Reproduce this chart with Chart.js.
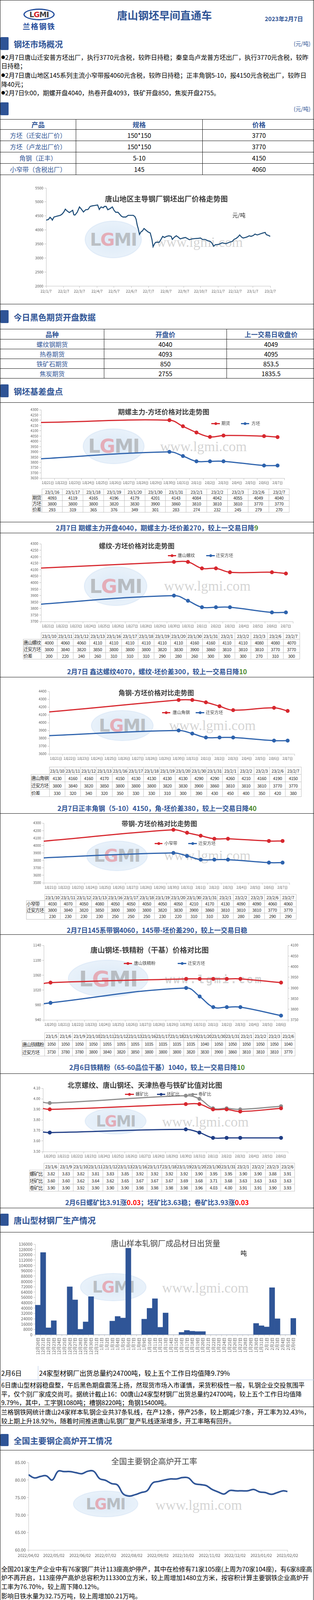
<!DOCTYPE html>
<html lang="zh-CN">
<head>
<meta charset="utf-8">
<title>唐山钢坯早间直通车</title>
<script src="https://cdn.jsdelivr.net/npm/chart.js@4.4.1/dist/chart.umd.min.js"></script>
<style>
  body { margin: 0; background: #fff; }
  #page { position: relative; width: 804px; height: 4517px; overflow: hidden; background: #fff;
          font-family: "Noto Sans CJK SC", "Noto Sans", sans-serif; color: #000; }
  .a, .ac { position: absolute; white-space: nowrap; line-height: 1.25; z-index: 3; }
  .a { transform: translateY(-50%); }
  .ac { transform: translate(-50%, -50%); }
  .hl { position: absolute; left: 0; width: 804px; height: 0; border-top: 1.5px solid #111; z-index: 4; }
  .vl { position: absolute; top: 0; width: 0; height: 4517px; border-left: 1.5px solid #111; z-index: 4; }
  .bar { position: absolute; left: 1px; width: 21px; background: #2f5496; border-radius: 2px; }
  .hd { left: 35px; font-size: 21px; font-weight: 700; color: #2f5496; }
  .unit { right: 9px; font-size: 14px; color: #2f5496; }
  .g { color: #4b8a2e; }
  .r { color: #ff0000; }
  .cv { position: absolute; left: 0; z-index: 2; }
  .wm { position: absolute; z-index: 1; }
  .lg { position: absolute; z-index: 3; }
  table.big { position: absolute; left: 0; width: 804px; border-collapse: collapse; table-layout: fixed; z-index: 3; }
  .big th, .big td { border: 1.5px solid #111; padding: 0; text-align: center; font-size: 16px; font-weight: 400; }
  .big th { font-size: 17px; font-weight: 700; color: #2f5496; }
  .big td.nm { color: #2f5496; }
  table.dt { position: absolute; border-collapse: collapse; table-layout: fixed; color: #262626; z-index: 3; }
  .dt td { border: 1px solid #bfbfbf; padding: 0; text-align: center; white-space: nowrap; overflow: hidden; line-height: 1; letter-spacing: -0.4px; }
  .dt td.corner { border-top: none; border-left: none; }
  .dt td.lab { text-align: left; font-size: 12px; letter-spacing: -1px; }
</style>
</head>
<body>
<div id="page"></div>
<script>
// ---------- data ----------
const products = ['方坯（迁安出厂价）', '方坯（卢龙出厂价）', '角钢（正丰）', '小窄带（含税出厂）'];
const specs = ['150*150', '150*150', '5-10', '145'];
const prices = [3770, 3770, 4150, 4060];

const futNames = ['螺纹钢期货', '热卷期货', '铁矿石期货', '焦炭期货'];
const futOpen = [4040, 4093, 850, 2755];
const futPrev = [4049, 4095, 853.5, 1835.5];

// 唐山钢坯出厂价 (daily)
const billetDates = [
  '22/1/7','22/1/11','22/1/14','22/1/17','22/1/18','22/1/21','22/1/26','22/2/1','22/2/4','22/2/7',
  '22/2/10','22/2/13','22/2/17','22/2/20','22/2/23','22/2/25','22/2/27','22/3/3','22/3/7','22/3/10',
  '22/3/14','22/3/18','22/3/22','22/3/26','22/3/30','22/4/2','22/4/5','22/4/8','22/4/11','22/4/14',
  '22/4/18','22/4/20','22/4/23','22/4/26','22/4/30','22/5/4','22/5/7','22/5/10','22/5/14','22/5/20',
  '22/5/23','22/5/28','22/6/1','22/6/6','22/6/10','22/6/13','22/6/15','22/6/17','22/6/19','22/6/21',
  '22/6/24','22/6/26','22/6/29','22/7/3','22/7/6','22/7/10','22/7/13','22/7/15','22/7/18','22/7/20',
  '22/7/26','22/7/29','22/8/1','22/8/4','22/8/8','22/8/12','22/8/16','22/8/18','22/8/21','22/8/25',
  '22/8/28','22/9/1','22/9/6','22/9/10','22/9/13','22/9/17','22/9/22','22/9/27','22/10/3','22/10/7',
  '22/10/10','22/10/15','22/10/20','22/10/24','22/10/27','22/10/30','22/11/2','22/11/7','22/11/11','22/11/14',
  '22/11/18','22/11/21','22/11/27','22/12/2','22/12/5','22/12/9','22/12/12','22/12/15','22/12/18','22/12/21',
  '22/12/25','22/12/28','23/1/1','23/1/4','23/1/8','23/1/11','23/1/15','23/1/18','23/1/22','23/1/25',
  '23/1/29','23/1/31','23/2/3','23/2/7'];
const billetPrices = [
  4350,4370,4450,4390,4350,4460,4490,4520,4560,4630,
  4740,4680,4620,4660,4700,4540,4530,4630,4820,4750,
  4640,4720,4730,4840,4860,4870,4880,4890,4730,4820,
  4790,4840,4840,4720,4760,4820,4700,4630,4630,4490,
  4460,4460,4520,4520,4520,4470,4380,4170,4030,3840,
  3940,3960,4050,3980,3930,3890,3660,3400,3520,3560,
  3560,3660,3770,3730,3770,3790,3770,3660,3730,3790,
  3750,3680,3710,3730,3700,3650,3680,3690,3700,3710,
  3660,3660,3610,3590,3530,3420,3470,3480,3510,3540,
  3520,3510,3560,3590,3660,3700,3750,3820,3750,3710,
  3730,3750,3790,3770,3800,3850,3820,3840,3870,3890,
  3910,3830,3810,3770];
const billetTicks = ['22/1/7','22/2/7','22/3/7','22/4/7','22/5/7','22/6/7','22/7/7','22/8/7','22/9/7','22/10/7','22/11/7','22/12/7','23/1/7','23/2/7'];

// day axes of the comparison charts
const days21 = ['1月21日','1月22日','1月23日','1月24日','1月25日','1月26日','1月27日','1月28日','1月29日','1月30日','1月31日','2月1日','2月2日','2月3日','2月4日','2月5日','2月6日','2月7日'];
const days21Start = '23/1/21';
const days20 = ['1月20日','1月21日','1月22日','1月23日','1月24日','1月25日','1月26日','1月27日','1月28日','1月29日','1月30日','1月31日','2月1日','2月2日','2月3日','2月4日','2月5日','2月6日'];
const days20Start = '23/1/20';

// 期螺主力-方坯
const futDates = ['23/1/16','23/1/17','23/1/18','23/1/19','23/1/20','23/1/30','23/1/31','23/2/1','23/2/2','23/2/3','23/2/6','23/2/7'];
const rebarFut = [4093,4119,4165,4196,4179,4201,4143,4084,4042,4055,4049,4040];
const rebarFutBillet = [3800,3800,3800,3820,3830,3900,3860,3810,3810,3810,3770,3770];
const rebarFutSpread = [293,319,365,376,349,301,283,274,232,245,279,270];

// 现货对比 (螺纹 / 角钢 / 带钢)
const spotDates = ['23/1/10','23/1/11','23/1/12','23/1/13','23/1/16','23/1/17','23/1/18','23/1/19','23/1/20','23/1/30','23/1/31','23/2/1','23/2/2','23/2/3','23/2/6','23/2/7'];
const qianBillet = [3800,3840,3820,3850,3800,3800,3800,3820,3830,3900,3860,3810,3810,3810,3770,3770];
const rebarSpot = [4000,4060,4060,4110,4110,4110,4110,4110,4110,4160,4160,4110,4110,4080,4080,4070];
const rebarSpread = [200,220,240,260,310,310,310,290,280,260,300,300,300,270,310,300];
const angleSpot = [4130,4160,4160,4170,4150,4130,4130,4130,4130,4290,4290,4260,4210,4160,4190,4150];
const angleSpread = [330,320,340,320,350,330,330,310,300,390,430,450,400,350,420,380];
const stripSpot = [4030,4070,4050,4080,4050,4050,4050,4050,4050,4210,4170,4130,4090,4090,4060,4060];
const stripSpread = [230,230,230,230,250,250,250,230,220,310,310,320,280,280,290,290];

// 铁精粉
const oreDates = ['23/1/5','23/1/6','23/1/9','23/1/10','23/1/11','23/1/12','23/1/13','23/1/16','23/1/17','23/1/18','23/1/19','23/1/20','23/1/30','23/1/31','23/2/1','23/2/2','23/2/3','23/2/6'];
const orePowder = [1050,1050,1050,1050,1055,1055,1055,1035,1035,1035,1035,1040,1050,1050,1050,1050,1050,1040];
const oreBillet = [3730,3780,3780,3800,3840,3820,3850,3800,3800,3800,3820,3830,3900,3860,3810,3810,3810,3770];

// 比值
const ratioDates = ['23/1/6','23/1/9','23/1/10','23/1/11','23/1/12','23/1/13','23/1/16','23/1/17','23/1/18','23/1/19','23/1/20','23/1/30','23/1/31','23/2/1','23/2/2','23/2/3','23/2/6'];
const rebarOre = [3.82,3.83,3.82,3.81,3.83,3.85,3.92,3.92,3.92,3.92,3.90,3.95,3.95,3.90,3.90,3.88,3.91];
const billetOre = [3.60,3.60,3.62,3.64,3.62,3.65,3.67,3.67,3.67,3.69,3.68,3.71,3.68,3.63,3.63,3.63,3.63];
const coilOre = [3.90,3.90,3.92,3.90,3.90,3.90,3.98,3.98,3.98,3.98,3.96,4.03,4.00,3.91,3.91,3.90,3.93];

// 型材出货量
const shipDates = [
  '12月20日','12月21日','12月22日','12月23日','12月24日','12月25日','12月26日','12月27日','12月28日','12月29日','12月30日','12月31日',
  '1月1日','1月2日','1月3日','1月4日','1月5日','1月6日','1月7日','1月8日','1月9日','1月10日','1月11日','1月12日','1月13日','1月14日','1月15日',
  '1月16日','1月17日','1月18日','1月19日','1月20日','1月21日','1月22日','1月23日','1月24日','1月25日','1月26日','1月27日','1月28日','1月29日','1月30日','1月31日',
  '2月1日','2月2日','2月3日','2月4日','2月5日','2月6日'];
const shipVolumes = [
  44500,123500,10500,21200,0,0,72000,52400,8300,19400,57300,0,
  0,0,20600,27600,25200,130000,0,0,23500,39800,54200,11300,32800,0,0,
  3700,6600,5400,4900,4900,0,0,0,0,0,0,0,0,0,17100,13600,
  11800,70700,24100,0,0,24700];

// 高炉开工率
const furnaceDates = ['2022/04/02','2022/04/09','2022/04/16','2022/04/23','2022/04/30','2022/05/07','2022/05/14','2022/05/21','2022/05/28','2022/06/04',
  '2022/06/11','2022/06/18','2022/06/25','2022/07/02','2022/07/09','2022/07/16','2022/07/23','2022/07/30','2022/08/06','2022/08/13',
  '2022/08/20','2022/08/27','2022/09/03','2022/09/10','2022/09/17','2022/09/24','2022/10/01','2022/10/08','2022/10/15','2022/10/22',
  '2022/10/29','2022/11/05','2022/11/12','2022/11/19','2022/11/26','2022/12/03','2022/12/10','2022/12/17','2022/12/24','2022/12/31',
  '2023/01/07','2023/01/14','2023/01/21','2023/01/28','2023/02/02'];
const furnaceRates = [81.5,80.6,81.0,81.2,80.0,82.5,82.4,82.4,82.1,81.8,
  82.5,82.5,80.4,79.9,79.0,78.6,76.0,75.4,75.8,76.4,
  76.9,79.2,79.6,80.0,80.3,80.3,80.7,80.6,79.0,78.7,
  78.4,77.3,76.6,76.0,77.0,76.9,76.9,76.9,77.3,76.6,
  76.4,75.9,76.4,76.9,76.7];
const furnaceTicks = ['2022/04/02','2022/05/02','2022/06/02','2022/07/02','2022/08/02','2022/09/02','2022/10/02','2022/11/02','2022/12/02','2023/01/02','2023/02/02'];

// 钢坯成本
const costDates = [
  '22/7/6','22/7/7','22/7/8','22/7/13','22/7/14','22/7/17','22/7/19','22/7/20','22/7/21','22/7/22',
  '22/7/23','22/8/2','22/8/3','22/8/4','22/8/5','22/8/9','22/8/10','22/8/11','22/8/13','22/8/15',
  '22/8/17','22/8/19','22/8/21','22/8/22','22/8/24','22/8/25','22/8/26','22/8/27','22/8/30','22/8/31',
  '22/9/2','22/9/6','22/9/7','22/9/13','22/9/14','22/9/17','22/9/19','22/9/21','22/9/22','22/9/24',
  '22/9/26','22/9/27','22/9/29','22/10/5','22/10/10','22/10/11','22/10/13','22/10/14','22/10/17','22/10/21',
  '22/10/25','22/10/27','22/10/28','22/11/1','22/11/2','22/11/3','22/11/4','22/11/9','22/11/13','22/11/15',
  '22/11/16','22/11/19','22/11/21','22/11/23','22/11/24','22/11/29','22/12/2','22/12/5','22/12/7','22/12/8',
  '22/12/11','22/12/13','22/12/14','22/12/19','22/12/20','22/12/21','22/12/22','22/12/25','22/12/27','22/12/29',
  '22/12/31','23/1/3','23/1/4','23/1/5','23/1/8','23/1/9','23/1/12','23/1/14','23/1/16','23/1/17',
  '23/1/18','23/1/21','23/1/28','23/1/29','23/2/1'];
const costBillet = [
  4030,3900,3920,3920,3730,3690,3650,3550,3400,3520,
  3550,3550,3620,3620,3760,3760,3710,3710,3780,3750,
  3730,3780,3790,3750,3730,3660,3710,3740,3750,3780,
  3690,3710,3680,3680,3730,3710,3690,3710,3620,3610,
  3600,3650,3660,3690,3710,3690,3730,3660,3640,3620,
  3600,3620,3590,3580,3420,3410,3450,3470,3490,3470,
  3510,3540,3560,3500,3520,3550,3590,3550,3550,3630,
  3630,3660,3740,3730,3810,3810,3710,3750,3730,3710,
  3740,3760,3780,3740,3730,3790,3800,3830,3850,3860,
  3810,3800,3800,3810,3840];
const costWeeks = ['22/7/6','22/7/13','22/7/20','22/7/27','22/8/3','22/8/10','22/8/17','22/8/24','22/8/31','22/9/7',
  '22/9/14','22/9/21','22/9/28','22/10/5','22/10/12','22/10/19','22/10/26','22/11/2','22/11/9','22/11/16',
  '22/11/23','22/11/30','22/12/7','22/12/14','22/12/21','22/12/28','23/1/4','23/1/11','23/1/18','23/1/25','23/2/1'];
const costAvg = [4340,4110,3870,3820,3790,3570,3570,3690,3660,3630,
  3670,3680,3620,3620,3780,3770,3780,3750,3620,3630,
  3660,3690,3740,3850,3850,3890,3900,3880,3830,3830,3823];

// ---------- helpers ----------
const RED = '#d7282f', BLUE = '#2e63ad', NAVY = '#1f3d85', GRAY = '#8c8c8c';
Chart.defaults.font.family = '"Noto Sans CJK SC", "Noto Sans", sans-serif';
Chart.defaults.color = '#595959';

const page = document.getElementById('page');
function el(tag, cls, css, html) {
  const e = document.createElement(tag);
  if (cls) e.className = cls;
  if (css) e.style.cssText = css;
  if (html != null) e.innerHTML = html;
  page.appendChild(e);
  return e;
}
function dayNum(s) {
  const p = s.split('/').map(Number);
  return Date.UTC(p[0] < 100 ? 2000 + p[0] : p[0], p[1] - 1, p[2]) / 864e5;
}
function monthDay(s) {
  const p = s.split('/');
  return p[1] + '月' + p[2] + '日';
}
function hline(y, color) { el('div', 'hl', `top:${y}px;` + (color ? `border-top-color:${color};` : '')); }
function section(barTop, barH, text, unit) {
  if (barH && text !== null) el('div', 'bar', `top:${barTop}px;height:${barH}px;`);
  const y = barTop + barH / 2;
  if (text) el('div', 'a hd', `top:${y}px;`, text);
  if (unit) el('div', 'a unit', `top:${y}px;`, '(元/吨)');
}
function text(x, y, html, css) { el('div', 'a', `left:${x}px;top:${y}px;` + (css || ''), html); }
function ctext(x, y, html, css) { el('div', 'ac', `left:${x}px;top:${y}px;` + (css || ''), html); }
function title(x, y, t, size, weight) {
  ctext(x, y, t, `font-size:${size}px;font-weight:${weight || 700};color:#404040;`);
}
function caption(y, html) { ctext(402, y, html, 'font-size:17px;font-weight:700;color:#2f5496;'); }

function legend(y, items) {
  items.forEach(([s, x1, x2, tx, noDot]) => {
    el('div', 'lg', `left:${x1}px;top:${y - (noDot ? 2 : 1.5)}px;width:${x2 - x1}px;height:${noDot ? 4 : 3}px;background:${s.color};`);
    if (!noDot) el('div', 'lg', `left:${(x1 + x2) / 2 - 3.5}px;top:${y - 3.5}px;width:7px;height:7px;border-radius:50%;background:${s.color};`);
    text(tx, y, s.name, 'font-size:11px;color:#404040;');
  });
}

function watermark(cx, cy, w, h, tx, ty, spaced) {
  const fs = Math.min(h * 0.62, w / 3.1);
  el('div', 'wm', `left:${cx - w / 2}px;top:${cy - h / 2}px;width:${w}px;height:${h}px;border-radius:50%;` +
    `background:radial-gradient(ellipse at center, rgba(196,219,242,.6), rgba(205,225,244,.35));` +
    `box-shadow:0 0 0 3px rgba(170,200,235,.35);display:flex;align-items:center;justify-content:center;` +
    `font:bold ${fs}px "DejaVu Sans",sans-serif;color:rgba(150,150,150,.55);letter-spacing:-2px;`,
    'L<span style="color:rgba(232,110,120,.5)">G</span>MI');
  el('div', 'wm', `left:${tx}px;top:${ty}px;transform:translateY(-50%);white-space:nowrap;line-height:1;color:rgba(170,170,170,.5);` +
    (spaced ? 'font:bold 28px "DejaVu Sans Mono",monospace;letter-spacing:4px;' : 'font:36px "Liberation Serif",serif;'),
    'www.lgmi.com');
}

function bigTable(top, widths, heights, rows) {
  const t = el('table', 'big', `top:${top}px;`);
  rows.forEach((r, ri) => {
    const tr = document.createElement('tr');
    tr.style.height = heights[ri] + 'px';
    r.forEach((c, ci) => {
      const td = document.createElement(ri === 0 ? 'th' : 'td');
      td.style.width = widths[ci] + 'px';
      if (ri > 0 && ci === 0) td.className = 'nm';
      td.textContent = c;
      tr.appendChild(td);
    });
    t.appendChild(tr);
  });
}

function dataTable(top, left, right, labelW, rowH, fs, dates, rows) {
  const t = el('table', 'dt', `top:${top}px;left:${left}px;width:${right - left}px;font-size:${fs}px;`);
  const cw = (right - left - labelW) / dates.length;
  const hr = document.createElement('tr');
  hr.style.height = rowH + 'px';
  const corner = document.createElement('td');
  corner.className = 'corner';
  corner.style.width = labelW + 'px';
  hr.appendChild(corner);
  dates.forEach(d => {
    const td = document.createElement('td');
    td.style.width = cw + 'px';
    td.textContent = d;
    hr.appendChild(td);
  });
  t.appendChild(hr);
  rows.forEach(([name, vals, fmt]) => {
    const tr = document.createElement('tr');
    tr.style.height = rowH + 'px';
    const lab = document.createElement('td');
    lab.className = 'lab';
    lab.textContent = name;
    tr.appendChild(lab);
    vals.forEach(v => {
      const td = document.createElement('td');
      td.textContent = fmt ? fmt(v) : v;
      tr.appendChild(td);
    });
    t.appendChild(tr);
  });
}

// chart canvas is placed so that the plot area lands on box (page coordinates)
function mount(box, config) {
  const padTop = 12;
  const h = box.bottom - box.top + padTop + box.xh;
  const cv = el('canvas', 'cv', `top:${box.top - padTop}px;width:804px;height:${h}px;`);
  cv.width = 804;
  cv.height = h;
  config.options = Object.assign({
    responsive: false,
    maintainAspectRatio: false,
    animation: false,
    layout: { padding: { top: padTop, bottom: 0, left: box.left - box.yw, right: 804 - box.right - (box.rw || 0) } },
    plugins: { legend: { display: false }, tooltip: { enabled: false }, title: { display: false } }
  }, config.options);
  return new Chart(cv, config);
}

function yAx(box, min, max, step, o) {
  o = o || {};
  return {
    type: 'linear', position: o.right ? 'right' : 'left', min, max,
    ticks: { stepSize: step, autoSkip: false, color: '#595959', font: { size: o.fs || 9 }, padding: 3,
      callback: o.fmt || (v => String(v)) },
    grid: { drawOnChartArea: false, tickLength: 4, color: '#bfbfbf' },
    border: { color: '#bfbfbf' },
    afterFit: s => { s.width = o.right ? box.rw : box.yw; }
  };
}

// one category per calendar day, label between tick marks
function dayAx(box, labels, fs) {
  return {
    type: 'linear', min: 0, max: labels.length,
    afterBuildTicks: s => { s.ticks = labels.map((l, i) => ({ value: i + 0.5 })); },
    ticks: { autoSkip: false, maxRotation: 0, minRotation: 0, color: '#595959', font: { size: fs || 8.5 }, padding: 2,
      callback: (v, i) => labels[i] },
    grid: { offset: true, drawOnChartArea: false, tickLength: 5, color: '#bfbfbf' },
    border: { color: '#bfbfbf' },
    afterFit: s => { s.height = box.xh; }
  };
}

function dateAx(box, tickDates, fmt, o) {
  o = o || {};
  const vals = tickDates.map(dayNum);
  return {
    type: 'linear', min: vals[0], max: vals[vals.length - 1],
    afterBuildTicks: s => { s.ticks = vals.map(v => ({ value: v })); },
    ticks: { autoSkip: false, maxRotation: o.rot || 0, minRotation: o.rot || 0, color: '#595959',
      font: { size: o.fs || 9.5 }, padding: 3, callback: (v, i) => fmt(tickDates[i]) },
    grid: { drawOnChartArea: false, tickLength: 5, color: '#bfbfbf' },
    border: { color: '#bfbfbf' },
    afterFit: s => { s.height = box.xh; }
  };
}

function ln(s, xs, ys, o) {
  return Object.assign({
    label: s.name,
    data: xs.map((x, i) => ({ x, y: ys[i] })),
    borderColor: s.color, backgroundColor: s.color,
    pointBackgroundColor: s.color, pointBorderColor: s.color,
    borderWidth: 3, pointRadius: 3.5, pointHoverRadius: 3.5, tension: 0.4
  }, o || {});
}
const onDays = (dates, start) => dates.map(d => dayNum(d) - dayNum(start) + 0.5);

// ---------- page text / tables ----------
function drawPageText() {
  hline(0);
  el('div', 'vl', 'left:0;');
  el('div', 'vl', 'left:802px;');

  // logo
  el('div', 'lg', 'left:60px;top:22px;width:74px;height:24px;border:3px solid #1f4a9a;border-radius:50%;background:radial-gradient(ellipse at center,#fff 58%,#dfe8f6 75%,#1f4a9a 100%);display:flex;align-items:center;justify-content:center;font:700 19px "DejaVu Sans",sans-serif;color:#444;letter-spacing:-1px;',
    'L<span style="color:#d4252b">G</span>M<span style="color:#333">I</span>');
  ctext(100, 67, '兰格钢铁', 'font-size:19px;font-weight:700;color:#1f4a9a;letter-spacing:2px;');
  ctext(421, 39, '唐山钢坯早间直通车', 'font-size:27px;font-weight:700;color:#2f5496;');
  text(678, 48, '2023年2月7日', 'font-size:15px;font-weight:700;color:#2f5496;');

  section(95, 33, '钢坯市场概况', true);
  const dot = '<span style="font-size:10px;vertical-align:2px">●</span>';
  text(3, 146, dot + '2月7日唐山迁安普方坯出厂，执行3770元含税，较昨日持稳；秦皇岛卢龙普方坯出厂，执行3770元含税，较昨', 'font-size:16px;');
  text(3, 168, '日持稳；', 'font-size:16px;');
  text(3, 192, dot + '2月7日唐山地区145系列主流小窄带报4060元含税，较昨日持稳；正丰角钢5-10，报4150元含税出厂，较昨日', 'font-size:16px;');
  text(3, 215, '降40元；', 'font-size:16px;');
  text(3, 237, dot + '2月7日9:00，期螺开盘4040，热卷开盘4093，铁矿开盘850，焦炭开盘2755。', 'font-size:16px;');

  section(262, 33, '', true);
  bigTable(305, [193, 323, 288], [26, 29, 29, 29, 29],
    [['产品', '规格', '价格']].concat(products.map((p, i) => [p, specs[i], prices[i]])));

  hline(778);
  section(794, 33, '今日黑色期货开盘数据');
  bigTable(842, [265, 313, 226], [26, 25, 25, 25, 25],
    [['品种', '开盘价', '上一交易日收盘价']].concat(futNames.map((n, i) => [n, futOpen[i], futPrev[i]])));

  section(984, 33, '钢坯基差盘点');
  hline(1030);
  hline(1336);
  caption(1351, '2月7日 期螺主力开盘4040，期螺主力-坯价差270，较上一交易日降<span class="g">9</span>');
  hline(1364);
  caption(1719, '2月7日 鑫达螺纹4070，螺纹-坯价差300，较上一交易日降<span class="g">10</span>');
  hline(1733);
  caption(2069, '2月7日正丰角钢（5-10）4150，角-坯价差380，较上一交易日降<span class="g">40</span>');
  hline(2082);
  caption(2381, '2月7日145系带钢4060，145带-坯价差290，较上一交易日稳');
  hline(2392);
  caption(2732, '2月6日铁精粉（65-60品位干基）1040，较上一交易日降<span class="g">10</span>');
  hline(2748);
  caption(3078, '2月6日螺矿比3.91涨<span class="r">0.03</span>；坯矿比3.63稳；卷矿比3.93涨<span class="r">0.03</span>');
  hline(3092);

  section(3107, 31, '唐山型材钢厂生产情况');
  hline(3154);
  text(3, 3515, '2月6日', 'font-size:17px;');
  el('div', 'lg', 'left:97px;top:3497px;width:0;height:35px;border-left:1px solid #b4c7e7;');
  text(100, 3515, '24家型材钢厂出货总量约24700吨，较上五个工作日均值降9.79%', 'font-size:17px;');
  hline(3532, '#b4c7e7');
  text(3, 3545, '6日唐山型材弱稳盘整，午后黑色期盘震荡上扬，然现货市场入市谨慎，采货积极性一般，轧钢企业交投氛围平', 'font-size:16px;');
  text(3, 3568, '平，仅个别厂家成交尚可。据统计截止16：00唐山24家型材钢厂出货总量约24700吨，较上五个工作日均值降', 'font-size:16px;');
  text(3, 3590, '9.79%，其中，工字钢1080吨；槽钢8220吨；角钢15400吨。', 'font-size:16px;');
  hline(3601);
  text(3, 3614, '兰格钢铁网统计唐山24家样本轧钢企业共37条轧线，在产12条，停产25条，较上期减少7条，开工率为32.43%，', 'font-size:16px;');
  text(3, 3637, '较上期上升18.92%，随着时间推进唐山轧钢厂复产轧线逐渐增多，开工率略有回升。', 'font-size:16px;');
  hline(3649);

  section(3671, 31, '全国主要钢企高炉开工情况');
  hline(3712);
  text(3, 4016, '全国201家生产企业中有76家钢厂共计113座高炉停产，其中在检修有71家105座(上周为70家104座)，有6家8座高', 'font-size:16px;');
  text(3, 4038, '炉不再开启，113座停产高炉总容积为113300立方米，较上周增加1480立方米，按容积计算主要钢铁企业高炉开', 'font-size:16px;');
  text(3, 4061, '工率为76.70%，较上周下降0.12%。', 'font-size:16px;');
  text(3, 4085, '影响日铁水量为32.75万吨，较上周增加0.21万吨。', 'font-size:16px;');
  text(3, 4106, '注：自7月21日开始，兰格钢铁网对原样本160家571座高炉样本进行更换，新样本为201家650座。', 'font-size:14.5px;font-weight:700;');
  hline(4116);
  section(4114, 32, null, true);
  text(35, 4130, '唐山钢坯成本', 'font-size:21px;font-weight:700;color:#2f5496;');
  hline(4147);
  text(3, 4484, '本周（2月1日）唐山地区样本长流程钢厂，钢坯含税累计成本（调研值，不含三费）均值为3823元，周环比降6', 'font-size:16.4px;');
  text(3, 4508, '元。', 'font-size:16.4px;');
  hline(4515);
}

// ---------- charts ----------
function drawBilletHistory() {
  const box = { left: 118, right: 692, top: 481, bottom: 732, xh: 22, yw: 40 };
  const s = { name: '唐山钢坯', color: '#1f4e79' };
  watermark(290, 613, 140, 90, 400, 620);
  mount(box, {
    type: 'line',
    data: { datasets: [ln(s, billetDates.map(dayNum), billetPrices, { pointRadius: 0, tension: 0, borderWidth: 2.6 })] },
    options: { scales: { x: dateAx(box, billetTicks, d => d), y: yAx(box, 2000, 5500, 500, { fs: 9.5 }) } }
  });
  title(426, 509, '唐山地区主导钢厂钢坯出厂价格走势图', 18.5, 700);
  text(595, 551, '元/吨', 'font-size:14px;color:#262626;');
}

function drawFutures() {
  const box = { left: 105, right: 728, top: 1049, bottom: 1224, xh: 22, yw: 40 };
  const fut = { name: '期货', color: RED }, bil = { name: '方坯', color: BLUE };
  const xs = onDays(futDates, days21Start);
  watermark(291, 1142, 152, 85, 410, 1143);
  mount(box, {
    type: 'line',
    data: { datasets: [ln(fut, xs, rebarFut), ln(bil, xs, rebarFutBillet)] },
    options: { scales: { x: dayAx(box, days21), y: yAx(box, 3650, 4300, 50) } }
  });
  title(419, 1054, '期螺主力-方坯价格对比走势图', 17.5);
  legend(1084, [[fut, 541, 563, 567], [bil, 617, 638, 644]]);
  dataTable(1251, 82, 728, 24, 15, 11, futDates,
    [['期货', rebarFut], ['方坯', rebarFutBillet], ['价差', rebarFutSpread]]);
}

function drawSpot(box, cfg) {
  const spot = { name: cfg.name, color: RED }, bil = { name: '迁安方坯', color: BLUE };
  const xs = onDays(spotDates, days21Start);
  watermark(...cfg.wm);
  mount(box, {
    type: 'line',
    data: { datasets: [ln(spot, xs, cfg.values), ln(bil, xs, qianBillet)] },
    options: { scales: { x: dayAx(box, days21), y: yAx(box, cfg.min, cfg.max, cfg.step) } }
  });
  title(cfg.title[0], cfg.title[1], cfg.title[2], 17);
  legend(cfg.legend[0], [[spot].concat(cfg.legend[1]), [bil].concat(cfg.legend[2])]);
  const t = cfg.table;
  dataTable(t[0], t[1], box.right, t[2], t[3], 11, spotDates,
    [[cfg.name, cfg.values], ['迁安方坯', qianBillet], [cfg.spreadLabel, cfg.spread]]);
}

function drawOre() {
  const box = { left: 112, right: 737, top: 2420, bottom: 2611, xh: 22, yw: 40, rw: 40 };
  const pw = { name: '唐山铁精粉', color: RED }, bil = { name: '迁安方坯', color: BLUE };
  const xs = onDays(oreDates, days20Start);
  watermark(277, 2505, 200, 90, 423, 2507, true);
  mount(box, {
    type: 'line',
    data: { datasets: [ln(pw, xs, orePowder, { yAxisID: 'y' }), ln(bil, xs, oreBillet, { yAxisID: 'y2' })] },
    options: { scales: {
      x: dayAx(box, days20),
      y: yAx(box, 940, 1140, 40),
      y2: yAx(box, 3750, 4100, 50, { right: true })
    } }
  });
  title(383, 2432, '唐山钢坯-铁精粉（干基）价格对比图', 18.5);
  legend(2466, [[pw, 317, 338, 343], [bil, 455, 477, 481]]);
  dataTable(2643, 56, 737, 57, 20, 10.5, oreDates, [['唐山铁精粉', orePowder], ['迁安方坯', oreBillet]]);
}

function drawRatio() {
  const box = { left: 110, right: 737, top: 2786, bottom: 2948, xh: 22, yw: 40 };
  const lr = { name: '螺矿比', color: RED }, pr = { name: '坯矿比', color: NAVY }, jr = { name: '卷矿比', color: GRAY };
  const xs = onDays(ratioDates, days20Start);
  watermark(296, 2870, 152, 62, 415, 2872);
  mount(box, {
    type: 'line',
    data: { datasets: [ln(lr, xs, rebarOre), ln(pr, xs, billetOre), ln(jr, xs, coilOre)] },
    options: { scales: { x: dayAx(box, days20), y: yAx(box, 3.5, 4.1, 0.1, { fmt: v => v.toFixed(2) }) } }
  });
  title(371, 2777, '北京螺纹、唐山钢坯、天津热卷与铁矿比值对比图', 18);
  legend(2801, [[lr, 320, 343, 347], [pr, 402, 423, 427], [jr, 482, 505, 508]]);
  const f = v => v.toFixed(2);
  dataTable(2977, 75, 737, 36, 18, 11, ratioDates,
    [['螺矿比', rebarOre, f], ['坯矿比', billetOre, f], ['卷矿比', coilOre, f]]);
}

function drawShipments() {
  const box = { left: 90, right: 758, top: 3185, bottom: 3417, xh: 62, yw: 46 };
  watermark(290, 3295, 164, 66, 415, 3297);
  mount(box, {
    type: 'bar',
    data: { labels: shipDates, datasets: [{ label: '出货量', data: shipVolumes, backgroundColor: '#2f5597',
      barPercentage: 1, categoryPercentage: 1 }] },
    options: { scales: {
      x: { type: 'category',
        ticks: { autoSkip: false, minRotation: 90, maxRotation: 90, color: '#595959', font: { size: 10.5 }, padding: 3 },
        grid: { drawOnChartArea: false, tickLength: 4, color: '#bfbfbf' },
        border: { color: '#bfbfbf' },
        afterFit: s => { s.height = box.xh; } },
      y: yAx(box, 0, 136000, 8000, { fs: 10.5 })
    } }
  });
  title(424, 3182, '唐山样本轧钢厂成品材日出货量', 20, 400);
  text(616, 3207, '吨', 'font-size:16px;');
}

function drawFurnace() {
  const box = { left: 73, right: 736, top: 3744, bottom: 3968, xh: 24, yw: 42 };
  const s = { name: '高炉开工率', color: '#2f5597' };
  watermark(270, 3850, 161, 62, 398, 3853);
  mount(box, {
    type: 'line',
    data: { datasets: [ln(s, furnaceDates.map(dayNum), furnaceRates, { pointRadius: 0, borderWidth: 4 })] },
    options: { scales: {
      x: dateAx(box, furnaceTicks, d => d, { fs: 10.5 }),
      y: yAx(box, 60, 85, 5, { fs: 11, fmt: v => v.toFixed(2) })
    } }
  });
  title(395, 3740, '全国主要钢企高炉开工率', 20, 400);
}

function drawCost() {
  const box = { left: 96, right: 728, top: 4185, bottom: 4423, xh: 48, yw: 40 };
  const qa = { name: '迁安方坯', color: RED }, ca = { name: '钢坯成本均价', color: '#2f5ba6' };
  watermark(285, 4310, 154, 106, 405, 4318);
  mount(box, {
    type: 'line',
    data: { datasets: [
      ln(qa, costDates.map(dayNum), costBillet, { pointRadius: 0, tension: 0, borderWidth: 2.6 }),
      ln(ca, costWeeks.map(dayNum), costAvg, { pointRadius: 0, tension: 0, borderWidth: 2.6, stepped: 'before' })
    ] },
    options: { scales: {
      x: dateAx(box, costWeeks, monthDay, { rot: 90, fs: 9 }),
      y: yAx(box, 3300, 5100, 150)
    } }
  });
  title(402, 4174, '钢坯出厂价与钢坯生产成本均价走势对比图', 18, 400);
  legend(4204, [[qa, 300, 326, 330, true], [ca, 422, 447, 452, true]]);
}

drawPageText();
drawBilletHistory();
drawFutures();
drawSpot({ left: 105, right: 750, top: 1392, bottom: 1591, xh: 22, yw: 40 }, {
  name: '唐山螺纹', values: rebarSpot, spread: rebarSpread, spreadLabel: '价差', min: 3700, max: 4300, step: 50,
  title: [350, 1397, '螺纹-方坯价格对比走势图'], legend: [1422, [430, 451, 455], [528, 550, 553]],
  wm: [296, 1500, 156, 95, 420, 1500], table: [1619, 59, 45, 17]
});
drawSpot({ left: 126, right: 754, top: 1770, bottom: 1930, xh: 22, yw: 40 }, {
  name: '唐山角钢', values: angleSpot, spread: angleSpread, spreadLabel: '价差', min: 3600, max: 4400, step: 100,
  title: [400, 1773, '角钢-方坯价格对比走势图'], legend: [1824, [415, 436, 442], [501, 523, 527]],
  wm: [313, 1857, 154, 73, 433, 1857], table: [1963, 79, 46, 19]
});
drawSpot({ left: 112, right: 741, top: 2107, bottom: 2260, xh: 22, yw: 40 }, {
  name: '小窄带', values: stripSpot, spread: stripSpread, spreadLabel: '', min: 3500, max: 4300, step: 100,
  title: [408, 2108, '带钢-方坯价格对比走势图'], legend: [2159, [396, 416, 421], [482, 504, 508]],
  wm: [299, 2191, 151, 72, 420, 2190], table: [2289, 67, 46, 16]
});
drawOre();
drawRatio();
drawShipments();
drawFurnace();
drawCost();
</script>
</body>
</html>
